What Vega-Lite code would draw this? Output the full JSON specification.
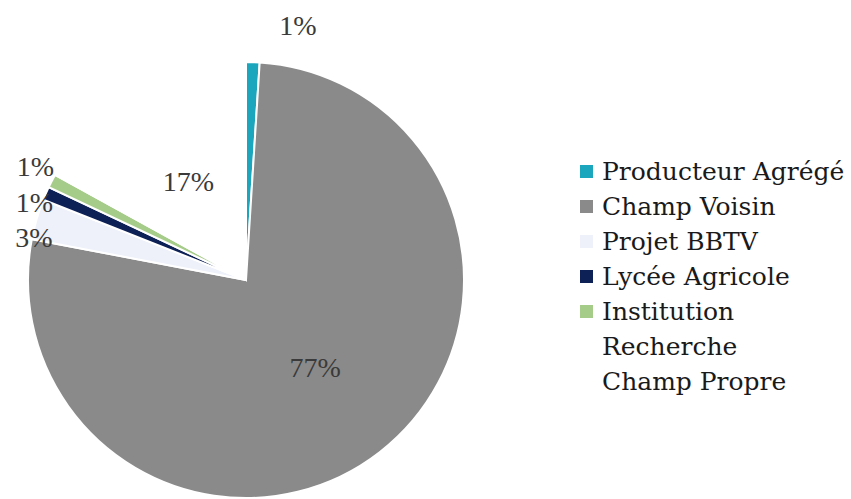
{
  "$schema": "https://vega.github.io/schema/vega-lite/v6.json",
  "autosize": "none",
  "width": 436,
  "height": 436,
  "padding": {"left": 28, "top": 62, "right": 387, "bottom": 1},
  "background": "white",
  "config": {
    "view": {"stroke": null},
    "style": {"guide-label": {"lineHeight": 35}}
  },
  "data": {
    "values": [
      {"idx": 1, "cat": "Producteur Agrégé", "value": 1, "label": "1%"},
      {"idx": 2, "cat": "Champ Voisin", "value": 77, "label": "77%"},
      {"idx": 3, "cat": "Projet BBTV", "value": 3, "label": "3%"},
      {"idx": 4, "cat": "Lycée Agricole", "value": 1, "label": "1%"},
      {"idx": 5, "cat": "Institution Recherche", "value": 1, "label": "1%"},
      {"idx": 6, "cat": "Champ Propre", "value": 17, "label": "17%"}
    ]
  },
  "encoding": {
    "theta": {"field": "value", "type": "quantitative", "stack": true},
    "order": {"field": "idx", "type": "quantitative"}
  },
  "layer": [
    {
      "mark": {"type": "arc", "radius": 218, "stroke": "white", "strokeWidth": 2},
      "encoding": {
        "color": {
          "field": "cat",
          "type": "nominal",
          "scale": {
            "domain": ["Producteur Agrégé", "Champ Voisin", "Projet BBTV", "Lycée Agricole", "Institution Recherche", "Champ Propre"],
            "range": ["#1ba6bd", "#8a8a8a", "#eef1f9", "#0e2156", "#a6cc8a", "#ffffff"]
          },
          "legend": {
            "title": null,
            "orient": "none",
            "legendX": 546,
            "legendY": 97,
            "symbolType": "square",
            "symbolSize": 170,
            "symbolStrokeWidth": 0,
            "labelFont": "DejaVu Serif",
            "labelFontSize": 25,
            "labelColor": "#1a1a1a",
            "labelOffset": 3,
            "labelLimit": 400,
            "rowPadding": 9,
            "labelExpr": "datum.value == 'Institution Recherche' ? ['Institution', 'Recherche'] : datum.label"
          }
        }
      }
    },
    {
      "mark": {"type": "text", "radius": 113, "font": "Liberation Serif", "fontSize": 28, "color": "#3a3a3a", "align": "center", "baseline": "middle"},
      "encoding": {
        "text": {"condition": {"test": "datum.cat == 'Champ Voisin' || datum.cat == 'Champ Propre'", "field": "label"}, "value": ""}
      }
    },
    {
      "mark": {"type": "text", "radius": 255, "dx": 44, "dy": 2, "font": "Liberation Serif", "fontSize": 28, "color": "#3a3a3a", "align": "center", "baseline": "middle"},
      "encoding": {
        "text": {"condition": {"test": "datum.cat == 'Producteur Agrégé'", "field": "label"}, "value": ""}
      }
    },
    {
      "mark": {"type": "text", "radius": 225, "dx": 4, "dy": 22, "font": "Liberation Serif", "fontSize": 28, "color": "#3a3a3a", "align": "center", "baseline": "middle"},
      "encoding": {
        "text": {"condition": {"test": "datum.cat == 'Projet BBTV'", "field": "label"}, "value": ""}
      }
    },
    {
      "mark": {"type": "text", "radius": 225, "dx": -5, "dy": 13, "font": "Liberation Serif", "fontSize": 28, "color": "#3a3a3a", "align": "center", "baseline": "middle"},
      "encoding": {
        "text": {"condition": {"test": "datum.cat == 'Lycée Agricole'", "field": "label"}, "value": ""}
      }
    },
    {
      "mark": {"type": "text", "radius": 225, "dx": -10, "dy": -10, "font": "Liberation Serif", "fontSize": 28, "color": "#3a3a3a", "align": "center", "baseline": "middle"},
      "encoding": {
        "text": {"condition": {"test": "datum.cat == 'Institution Recherche'", "field": "label"}, "value": ""}
      }
    }
  ]
}
